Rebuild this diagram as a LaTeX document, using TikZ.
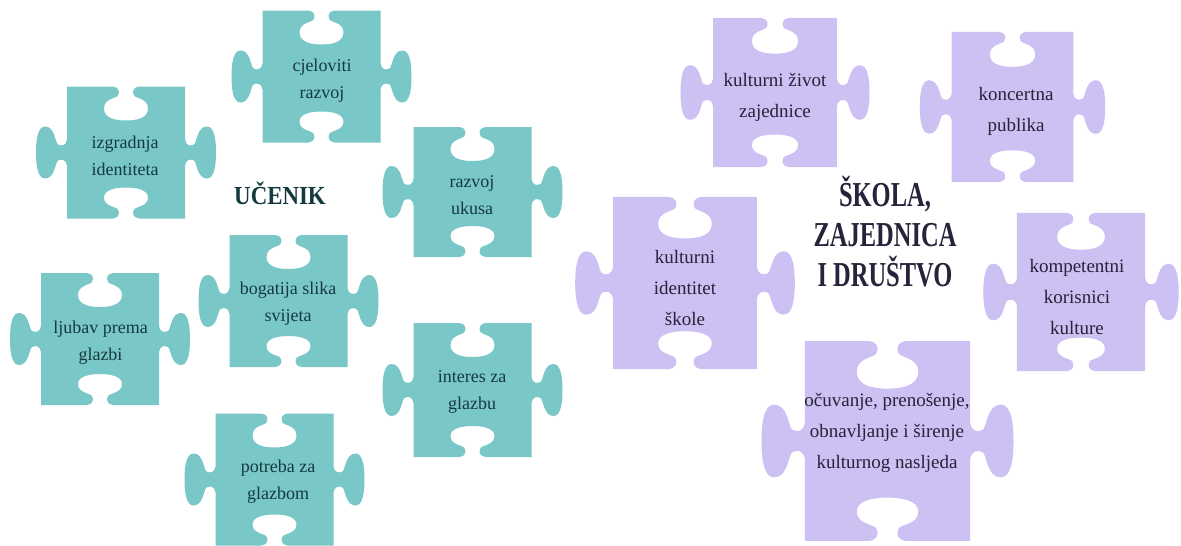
\documentclass[tikz,border=0pt]{standalone}
\usepackage{fontspec}
\setmainfont{Liberation Serif}
\newfontfamily\bodyfont{Liberation Serif}
\newfontfamily\titlefont[FakeStretch=0.7]{Liberation Serif}
\newfontfamily\subtitlefont[FakeStretch=0.88]{Liberation Serif}
\definecolor{tealfill}{RGB}{121,199,199}
\definecolor{lavfill}{RGB}{205,192,242}
\definecolor{tealtext}{RGB}{20,58,64}
\definecolor{lavtext}{RGB}{38,35,58}
\newcommand\puzzlepiece[5]{%
\begin{scope}[shift={(#1,#2)},scale=#3]
\def\pa{59}\def\pb{#4}
\fill[#5] (-\pa,-\pb)
  -- (-13,-\pb) .. controls (-7,{-\pb+1}) and (-6,{-\pb+5}) .. (-8,{-\pb+9})
  .. controls (-10,{-\pb+12}) and (-22,{-\pb+12}) .. (-22,{-\pb+22})
  .. controls (-22,{-\pb+32}) and (-10,{-\pb+34}) .. (0,{-\pb+34})
  .. controls (10,{-\pb+34}) and (22,{-\pb+32}) .. (22,{-\pb+22})
  .. controls (22,{-\pb+12}) and (10,{-\pb+12}) .. (8,{-\pb+9})
  .. controls (6,{-\pb+5}) and (7,{-\pb+1}) .. (13,-\pb)
  -- (\pa,-\pb) -- (\pa,-13)
  .. controls ({\pa+1},-7) and ({\pa+5},-6) .. ({\pa+9},-8)
  .. controls ({\pa+12},-10) and ({\pa+12},-26) .. ({\pa+22},-26)
  .. controls ({\pa+30},-26) and ({\pa+31},-10) .. ({\pa+31},0)
  .. controls ({\pa+31},10) and ({\pa+30},26) .. ({\pa+22},26)
  .. controls ({\pa+12},26) and ({\pa+12},10) .. ({\pa+9},8)
  .. controls ({\pa+5},6) and ({\pa+1},7) .. (\pa,13)
  -- (\pa,\pb) -- (13,\pb)
  .. controls (7,{\pb-1}) and (6,{\pb-5}) .. (8,{\pb-9})
  .. controls (10,{\pb-12}) and (22,{\pb-12}) .. (22,{\pb-21})
  .. controls (22,{\pb-29}) and (10,{\pb-31}) .. (0,{\pb-31})
  .. controls (-10,{\pb-31}) and (-22,{\pb-29}) .. (-22,{\pb-21})
  .. controls (-22,{\pb-12}) and (-10,{\pb-12}) .. (-8,{\pb-9})
  .. controls (-6,{\pb-5}) and (-7,{\pb-1}) .. (-13,\pb)
  -- (-\pa,\pb) -- (-\pa,13)
  .. controls ({-\pa-1},7) and ({-\pa-5},6) .. ({-\pa-9},8)
  .. controls ({-\pa-12},10) and ({-\pa-12},26) .. ({-\pa-22},26)
  .. controls ({-\pa-30},26) and ({-\pa-31},10) .. ({-\pa-31},0)
  .. controls ({-\pa-31},-10) and ({-\pa-30},-26) .. ({-\pa-22},-26)
  .. controls ({-\pa-12},-26) and ({-\pa-12},-10) .. ({-\pa-9},-8)
  .. controls ({-\pa-5},-6) and ({-\pa-1},-7) .. (-\pa,-13)
  -- cycle;
\end{scope}}
\tikzset{
  tealpiece/.style={fill=tealfill},
  lavpiece/.style={fill=lavfill},
  tealtxt/.style={inner sep=0pt, align=center, text=tealtext, font=\bodyfont\fontsize{18}{27}\selectfont},
  lavtxt/.style={inner sep=0pt, align=center, text=lavtext, font=\bodyfont\fontsize{19}{31}\selectfont},
}
\begin{document}
\begin{tikzpicture}[x=1pt,y=-1pt]
\useasboundingbox (0,0) rectangle (1181,546);
\fill[white] (0,0) rectangle (1181,546);
% teal pieces
\puzzlepiece{126}{152.5}{1}{66}{tealpiece}
\puzzlepiece{321.5}{76.5}{1}{66}{tealpiece}
\puzzlepiece{472.5}{192}{1}{65}{tealpiece}
\puzzlepiece{288.5}{301}{1}{66}{tealpiece}
\puzzlepiece{100}{339}{1}{66}{tealpiece}
\puzzlepiece{274.5}{479.5}{1}{66}{tealpiece}
\puzzlepiece{472.5}{390}{1}{67}{tealpiece}
% lavender pieces
\puzzlepiece{775}{92.5}{1.05}{71}{lavpiece}
\puzzlepiece{1012.5}{107}{1.03}{73}{lavpiece}
\puzzlepiece{685}{283}{1.22}{70.5}{lavpiece}
\puzzlepiece{1081}{292}{1.085}{73}{lavpiece}
\puzzlepiece{887.5}{441}{1.4}{71.4}{lavpiece}
% texts
\node[tealtxt] (t1) at (125,156) {izgradnja\\identiteta};
\node[tealtxt] (t2) at (322,81) {cjeloviti\\razvoj};
\node[tealtxt] (t3) at (472,195) {razvoj\\ukusa};
\node[tealtxt] (t4) at (288,303.5) {bogatija slika\\svijeta};
\node[tealtxt] (t5) at (100.5,342.5) {ljubav prema\\glazbi};
\node[tealtxt] (t6) at (278,481.5) {potreba za\\glazbom};
\node[tealtxt] (t7) at (472,391.5) {interes za\\glazbu};
\node[lavtxt] (t8) at (775,97.5) {kulturni život\\zajednice};
\node[lavtxt] (t9) at (1016,111) {koncertna\\publika};
\node[lavtxt] (t10) at (685,288) {kulturni\\identitet\\škole};
\node[lavtxt] (t11) at (1077,297) {kompetentni\\korisnici\\kulture};
\node[lavtxt] (t12) at (887,433) {očuvanje, prenošenje,\\obnavljanje i širenje\\kulturnog nasljeda};
\node[inner sep=0pt, text=tealtext, font=\subtitlefont\bfseries\fontsize{26}{30}\selectfont] (u) at (280,193) {UČENIK};
\node[inner sep=0pt, align=center, text=lavtext, font=\titlefont\bfseries\fontsize{35}{40}\selectfont] (s) at (885,232) {ŠKOLA,\\ZAJEDNICA\\I DRUŠTVO};
\end{tikzpicture}
\end{document}
